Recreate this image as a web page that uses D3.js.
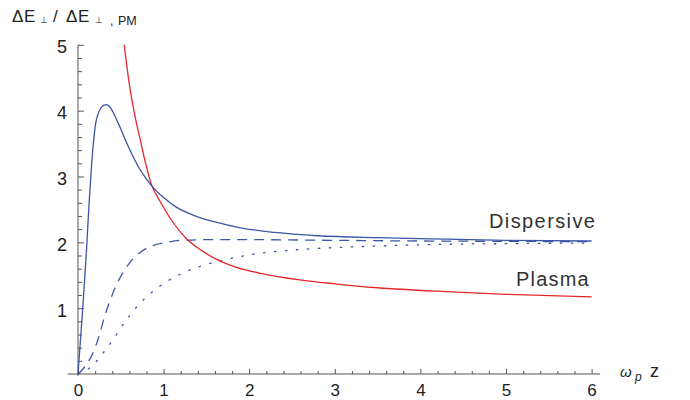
<!DOCTYPE html>
<html>
<head>
<meta charset="utf-8">
<script src="https://cdn.jsdelivr.net/npm/d3@7"></script>
<style>
  body { margin: 0; background: #fff; }
  svg { font-family: "Liberation Sans", "DejaVu Sans", sans-serif; }
</style>
</head>
<body>
<div id="chart"></div>
<script>
// values (x = omega_p z, y = ratio)
const dispX = [0, 0.04, 0.07, 0.1, 0.13, 0.16, 0.2, 0.25, 0.3, 0.33, 0.37, 0.42, 0.5, 0.6, 0.7, 0.8, 0.9, 1.0, 1.13, 1.35, 1.6, 1.9, 2.3, 2.8, 3.5, 4.3, 5.0, 6.0];
const dispY = [0, 0.72, 1.28, 1.9, 2.6, 3.2, 3.75, 4.0, 4.08, 4.09, 4.06, 3.95, 3.72, 3.42, 3.16, 2.96, 2.8, 2.68, 2.55, 2.41, 2.31, 2.22, 2.15, 2.1, 2.07, 2.05, 2.03, 2.02];

const plasmaX = [0.54, 0.6, 0.66, 0.72, 0.79, 0.86, 0.96, 1.1, 1.27, 1.45, 1.62, 1.85, 2.13, 2.59, 3.0, 3.5, 4.3, 5.0, 6.0];
const plasmaY = [5.0, 4.4, 3.95, 3.6, 3.2, 2.87, 2.62, 2.32, 2.05, 1.87, 1.74, 1.62, 1.53, 1.43, 1.37, 1.31, 1.25, 1.21, 1.17];

const dashX = [0, 0.08, 0.14, 0.2, 0.26, 0.31, 0.37, 0.43, 0.49, 0.55, 0.61, 0.7, 0.8, 0.9, 1.04, 1.2, 1.5, 2.0, 3.0, 4.0, 5.0, 6.0];
const dashY = [0, 0.11, 0.23, 0.4, 0.64, 0.87, 1.1, 1.3, 1.46, 1.59, 1.7, 1.82, 1.91, 1.96, 2.0, 2.03, 2.04, 2.04, 2.03, 2.02, 2.015, 2.01];

const dotX = [0, 0.1, 0.2, 0.3, 0.41, 0.5, 0.61, 0.7, 0.8, 0.93, 1.07, 1.2, 1.39, 1.6, 1.8, 2.05, 2.3, 2.7, 3.2, 3.8, 4.3, 5.0, 6.0];
const dotY = [0, 0.06, 0.17, 0.33, 0.52, 0.7, 0.9, 1.04, 1.17, 1.31, 1.43, 1.52, 1.62, 1.7, 1.76, 1.82, 1.86, 1.9, 1.93, 1.955, 1.97, 1.98, 1.99];

const xTicks = [0, 1, 2, 3, 4, 5, 6];
const yTicks = [0, 1, 2, 3, 4, 5];

const width = 690, height = 400;
const blue = "#3b56a5", red = "#e8262c", axisColor = "#555";

const svg = d3.select("#chart").append("svg")
  .attr("width", width)
  .attr("height", height);

const x = d3.scaleLinear().domain([0, 6]).range([78, 591.6]);
const y = d3.scaleLinear().domain([0, 5]).range([374, 44.8]);

// minor ticks every 0.2
const xMinor = d3.range(0, 6.01, 0.2).filter(v => Math.abs(v - Math.round(v)) > 1e-6);
const yMinor = d3.range(0, 5.01, 0.2).filter(v => Math.abs(v - Math.round(v)) > 1e-6);

// axis lines
svg.append("line")
  .attr("x1", x(-0.12)).attr("x2", x(6.1))
  .attr("y1", y(0)).attr("y2", y(0))
  .attr("stroke", axisColor).attr("stroke-width", 1);
svg.append("line")
  .attr("x1", x(0)).attr("x2", x(0))
  .attr("y1", y(-0.03)).attr("y2", y(5))
  .attr("stroke", axisColor).attr("stroke-width", 1);

// x axis
const gx = svg.append("g").attr("transform", "translate(0," + y(0) + ")");
gx.call(d3.axisBottom(x).tickValues(xTicks).tickSizeInner(-5).tickSizeOuter(0).tickFormat(d3.format("d")));
gx.append("g").call(d3.axisBottom(x).tickValues(xMinor).tickSizeInner(-3).tickSizeOuter(0).tickFormat(""));
gx.selectAll(".domain").remove();
gx.selectAll("line").attr("stroke", axisColor);
gx.selectAll("text")
  .attr("y", 22).attr("dy", null)
  .attr("fill", "#222")
  .style("font-size", "17px")
  .style("font-family", "Liberation Sans, sans-serif");

// y axis
const gy = svg.append("g").attr("transform", "translate(" + x(0) + ",0)");
gy.call(d3.axisLeft(y).tickValues(yTicks.filter(d => d > 0)).tickSizeInner(-6).tickSizeOuter(0).tickPadding(11).tickFormat(d3.format("d")));
gy.append("g").call(d3.axisLeft(y).tickValues(yMinor).tickSizeInner(-4).tickSizeOuter(0).tickFormat(""));
gy.selectAll(".domain").remove();
gy.selectAll("line").attr("stroke", axisColor);
gy.selectAll("text")
  .attr("dy", null).attr("y", 8)
  .attr("fill", "#222")
  .style("font-size", "18px")
  .style("font-family", "Liberation Sans, sans-serif");

// curves
const line = d3.line()
  .x(d => x(d[0]))
  .y(d => y(d[1]))
  .curve(d3.curveMonotoneX);

function addCurve(xs, ys, color, dash) {
  svg.append("path")
    .datum(xs.map((v, i) => [v, ys[i]]))
    .attr("d", line)
    .attr("fill", "none")
    .attr("stroke", color)
    .attr("stroke-width", 1.3)
    .attr("stroke-dasharray", dash);
}
addCurve(dotX, dotY, blue, "2.5,8.5");
addCurve(dashX, dashY, blue, "10,7");
addCurve(plasmaX, plasmaY, red, null);
addCurve(dispX, dispY, blue, null);

// curve labels
svg.append("text").attr("x", 489).attr("y", 228)
  .attr("fill", "#333").style("font-size", "20px").style("letter-spacing", "1.4px")
  .text("Dispersive");
svg.append("text").attr("x", 516).attr("y", 286)
  .attr("fill", "#333").style("font-size", "20px").style("letter-spacing", "1.2px")
  .text("Plasma");

// y axis title
const title = svg.append("text").attr("fill", "#222");
const parts = [
  { t: "\u0394", x: 12, y: 22, s: 17 },
  { t: "E", x: 24, y: 22, s: 17 },
  { t: "\u22A5", x: 40, y: 23, s: 9 },
  { t: "/", x: 53, y: 22, s: 17 },
  { t: "\u0394", x: 66, y: 22, s: 17 },
  { t: "E", x: 78, y: 22, s: 17 },
  { t: "\u22A5", x: 95, y: 23, s: 9 },
  { t: ",", x: 110, y: 25, s: 12 },
  { t: "PM", x: 118, y: 25, s: 12.5 }
];
parts.forEach(p => {
  title.append("tspan").attr("x", p.x).attr("y", p.y)
    .style("font-size", p.s + "px").text(p.t);
});

// x axis title
const xt = svg.append("text").attr("fill", "#222");
xt.append("tspan").attr("x", 620).attr("y", 377).style("font-size", "15px").style("font-style", "italic").text("\u03C9");
xt.append("tspan").attr("x", 635).attr("y", 381).style("font-size", "12px").style("font-style", "italic").text("p");
xt.append("tspan").attr("x", 650).attr("y", 377).style("font-size", "18px").text("z");
</script>
</body>
</html>
